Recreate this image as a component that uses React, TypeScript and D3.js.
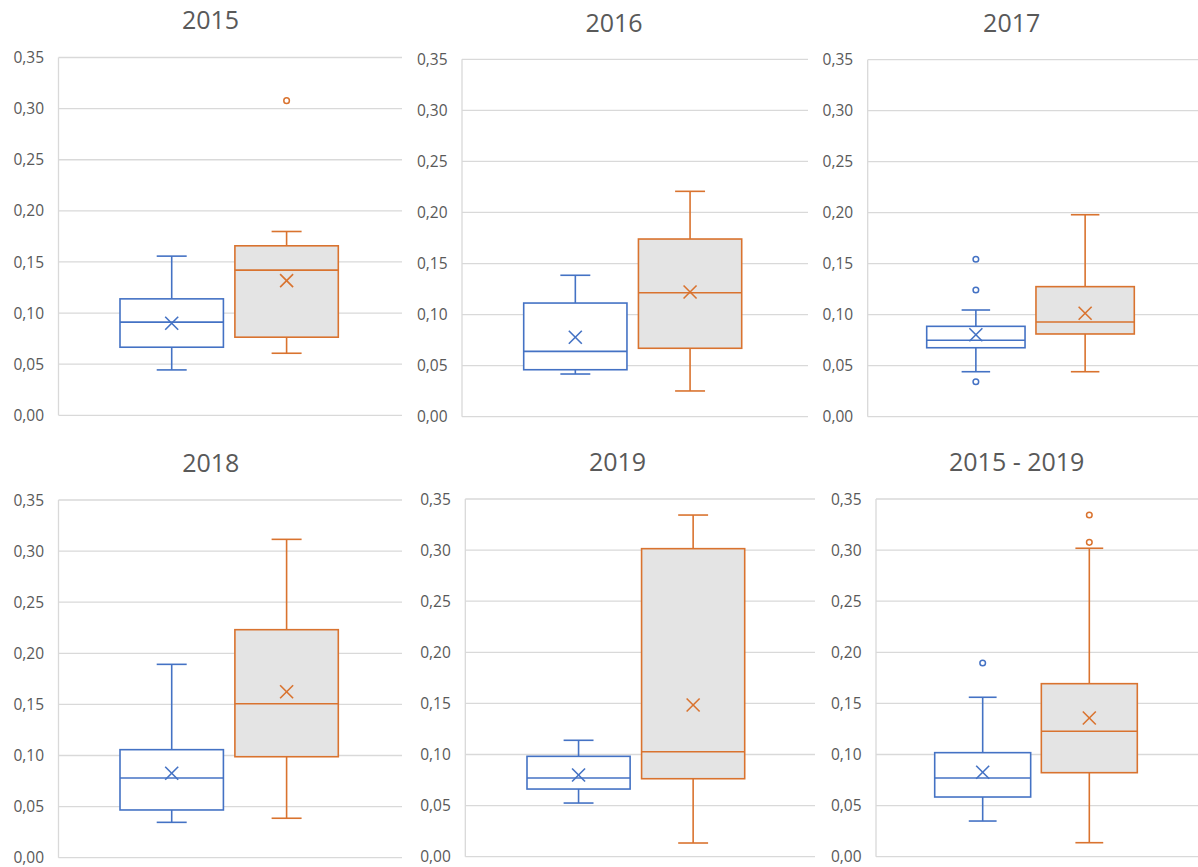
import React from "react";
import * as d3 from "d3";

// ---------- data ----------
const panelTitles = ["2015", "2016", "2017", "2018", "2019", "2015 - 2019"];
const seriesKeys = ["blue", "orange"];
const tickValues = [0, 0.05, 0.1, 0.15, 0.2, 0.25, 0.3, 0.35];

const blueMin = [0.0444, 0.0418, 0.0441, 0.0346, 0.0525, 0.0349];
const blueQ1 = [0.0666, 0.046, 0.0676, 0.0467, 0.0662, 0.0584];
const blueMedian = [0.0911, 0.064, 0.0749, 0.078, 0.077, 0.077];
const blueQ3 = [0.1139, 0.1113, 0.0886, 0.1057, 0.0982, 0.1018];
const blueMax = [0.1557, 0.1385, 0.1046, 0.1892, 0.1139, 0.156];
const blueMean = [0.09, 0.0778, 0.0804, 0.0826, 0.0799, 0.0826];
const blueOutliers = [[], [], [0.1543, 0.1242, 0.0343], [], [], [0.1895]];

const orangeMin = [0.0607, 0.0252, 0.0441, 0.0386, 0.0134, 0.0137];
const orangeQ1 = [0.0764, 0.067, 0.0811, 0.0988, 0.0763, 0.0822];
const orangeMedian = [0.142, 0.1214, 0.0928, 0.1507, 0.1027, 0.1227];
const orangeQ3 = [0.1658, 0.174, 0.1275, 0.2231, 0.3014, 0.1693];
const orangeMax = [0.1798, 0.2207, 0.198, 0.3115, 0.3343, 0.3018];
const orangeMean = [0.1318, 0.1221, 0.1014, 0.1624, 0.1484, 0.1357];
const orangeOutliers = [[0.3078], [], [], [], [], [0.3343, 0.3076]];

// ---------- layout ----------
const W = 1198;
const H = 867;
const panels = [
  { l: 58.5, r: 402, t: 57.5, b: 415.3, gl: 120, gr: 338.3, tx: 210.5, ty: 29.3 },
  { l: 462, r: 808, t: 59.3, b: 416.7, gl: 523.7, gr: 741.7, tx: 614, ty: 31.7 },
  { l: 867.7, r: 1198, t: 59.7, b: 416.7, gl: 926.7, gr: 1134.3, tx: 1011.7, ty: 31.7 },
  { l: 58.5, r: 402, t: 500, b: 857.7, gl: 120, gr: 338.3, tx: 210.8, ty: 471.7 },
  { l: 465.3, r: 815, t: 499, b: 856.7, gl: 527, gr: 744.7, tx: 617.5, ty: 470.7 },
  { l: 876, r: 1198, t: 499, b: 856.7, gl: 934.7, gr: 1137.3, tx: 1016.7, ty: 471 },
];

const colors: Record<string, string> = { blue: "#4472C4", orange: "#D9732F" };
const fills: Record<string, string> = { blue: "#FFFFFF", orange: "#E4E4E4" };
const gridColor = "#D9D9D9";
const textColor = "#595959";
const FONT = "'Open Sans', sans-serif";

const fmt = (v: number) => d3.format(".2f")(v).replace(".", ",");

function getStats(key: string, i: number) {
  if (key === "blue")
    return {
      min: blueMin[i], q1: blueQ1[i], med: blueMedian[i], q3: blueQ3[i],
      max: blueMax[i], mean: blueMean[i], out: blueOutliers[i],
    };
  return {
    min: orangeMin[i], q1: orangeQ1[i], med: orangeMedian[i], q3: orangeQ3[i],
    max: orangeMax[i], mean: orangeMean[i], out: orangeOutliers[i],
  };
}

function Panel({ idx }: { idx: number }) {
  const p = panels[idx];
  const y = d3.scaleLinear().domain([0, 0.35]).range([p.b, p.t]);
  const x = d3.scaleBand<string>().domain(seriesKeys).range([p.gl, p.gr]).paddingInner(0.1).paddingOuter(0);
  const bw = x.bandwidth();
  const cap = bw * 0.29;
  const sw = 1.6;
  return (
    <g>
      <text x={p.tx} y={p.ty} textAnchor="middle" fontSize={25} fill={textColor} fontFamily={FONT}>
        {panelTitles[idx]}
      </text>
      {tickValues.map((v) => (
        <g key={v}>
          <line x1={p.l} x2={p.r} y1={y(v)} y2={y(v)} stroke={gridColor} strokeWidth={1.3} />
          <text x={p.l - 14.5} y={y(v)} dy="0.36em" textAnchor="end" fontSize={15.5} fill={textColor} fontFamily={FONT}>
            {fmt(v)}
          </text>
        </g>
      ))}
      <line x1={p.l} x2={p.l} y1={p.t} y2={p.b} stroke={gridColor} strokeWidth={1.3} />
      {seriesKeys.map((k) => {
        const s = getStats(k, idx);
        const x0 = x(k) as number;
        const cx = x0 + bw / 2;
        const c = colors[k];
        const m = 6.5;
        return (
          <g key={k} stroke={c} strokeWidth={sw} fill="none">
            <line x1={cx} x2={cx} y1={y(s.q3)} y2={y(s.max)} />
            <line x1={cx} x2={cx} y1={y(s.q1)} y2={y(s.min)} />
            <line x1={cx - cap / 2} x2={cx + cap / 2} y1={y(s.max)} y2={y(s.max)} />
            <line x1={cx - cap / 2} x2={cx + cap / 2} y1={y(s.min)} y2={y(s.min)} />
            <rect x={x0} y={y(s.q3)} width={bw} height={y(s.q1) - y(s.q3)} fill={fills[k]} />
            <line x1={x0} x2={x0 + bw} y1={y(s.med)} y2={y(s.med)} />
            <line x1={cx - m} x2={cx + m} y1={y(s.mean) - m} y2={y(s.mean) + m} />
            <line x1={cx - m} x2={cx + m} y1={y(s.mean) + m} y2={y(s.mean) - m} />
            {s.out.map((o, j) => (
              <circle key={j} cx={cx} cy={y(o)} r={2.8} fill="#FFFFFF" strokeWidth={1.5} />
            ))}
          </g>
        );
      })}
    </g>
  );
}

export default function App() {
  return (
    <svg
      width={W}
      height={H}
      style={{ position: "absolute", left: 0, top: 0, background: "#FFFFFF" }}
    >
      <rect x={0} y={0} width={W} height={H} fill="#FFFFFF" />
      {panelTitles.map((_, i) => (
        <Panel key={i} idx={i} />
      ))}
    </svg>
  );
}
